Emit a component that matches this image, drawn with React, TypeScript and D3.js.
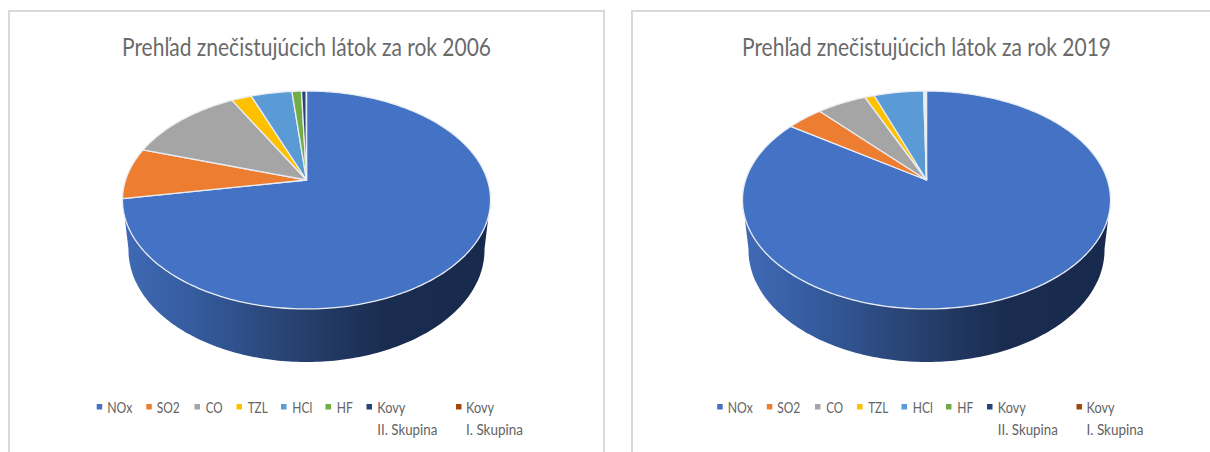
import React from "react";
import * as d3 from "d3";

const categories = ["NOx", "SO2", "CO", "TZL", "HCl", "HF", "Kovy", "Kovy"];
const categorySecondLine = ["", "", "", "", "", "", "II. Skupina", "I. Skupina"];
const colors = ["#4472C4", "#ED7D31", "#A5A5A5", "#FFC000", "#5B9BD5", "#70AD47", "#264478", "#9E480E"];
const values2006 = [72.2, 7.6, 12.2, 2.1, 4.3, 1.0, 0.5, 0.02];
const values2019 = [84.4, 3.8, 5.2, 1.0, 5.2, 0.15, 0.1, 0.05];
const title2006 = "Prehľad znečistujúcich látok za rok 2006";
const title2019 = "Prehľad znečistujúcich látok za rok 2019";

const FONT = "Lato, 'Open Sans', sans-serif";
const TEXT = "#636363";
const BORDER = "#d9d9d9";

// legend layout relative to the panel
const legendMarkerX = [96.7, 146.3, 194.5, 236.5, 281, 325.5, 366.5, 456];
const legendTextX = [107.3, 156.7, 205.7, 247.7, 292.3, 336.7, 377.3, 466];
const legendTextW = [25, 23, 17, 20, 20, 16, 28, 28];
const legendLine2W = [0, 0, 0, 0, 0, 0, 60, 57];

// perspective of the tilted disc: hub at (0,0), near side larger than far side
const K = 0.1835;
const A = 180.9;
const B = 105.3;

function project(angle: number, sx: number, sy: number): [number, number] {
  const u = Math.sin(angle);
  const v = -Math.cos(angle);
  const w = 1 - K * v;
  return [(sx * A * u) / w, (sy * B * v) / w];
}

function sampleArc(a0: number, a1: number, sx: number, sy: number): [number, number][] {
  const n = Math.max(2, Math.ceil(Math.abs(a1 - a0) / (Math.PI / 180)));
  return d3.range(n + 1).map((i) => project(a0 + ((a1 - a0) * i) / n, sx, sy));
}

const line = d3.line<[number, number]>();

function Pie({ values, title, dx, titleX, gid }: { values: number[]; title: string; dx: number; titleX: number; gid: string }) {
  const cx = dx;
  const cy = 180;
  const baseSx = 178 / 184;
  const baseSy = 112 / 109;
  const baseCy = 229.5;
  const slices = d3.pie<number>().sort(null).startAngle(0).endAngle(2 * Math.PI)(values);

  // side wall: lower part of the disc's rim joined to the lower part of the base rim
  const deg = Math.PI / 180;
  const rimTop = sampleArc(109 * deg, 251 * deg, 1, 1).map(([x, y]) => [x + cx, y + cy] as [number, number]);
  const rimBase = sampleArc(260 * deg, 100 * deg, baseSx, baseSy).map(([x, y]) => [x + cx, y + baseCy] as [number, number]);
  const wall = line([...rimTop, ...rimBase]) + "Z";

  return (
    <g>
      <defs>
        <linearGradient id={gid} gradientUnits="userSpaceOnUse" x1={cx - 178} x2={cx + 178} y1={0} y2={0}>
          <stop offset="0" stopColor="#3f69b4" />
          <stop offset="0.2" stopColor="#345a9c" />
          <stop offset="0.48" stopColor="#27406e" />
          <stop offset="0.72" stopColor="#1a2c50" />
          <stop offset="1" stopColor="#172a4d" />
        </linearGradient>
      </defs>
      <text x={titleX} y={56} fontFamily={FONT} fontSize={25} fill="#6a6a6a" textLength={369} lengthAdjust="spacingAndGlyphs">
        {title}
      </text>
      <path d={wall} fill={`url(#${gid})`} />
      {slices.map((s, i) => {
        const pts = sampleArc(s.startAngle, s.endAngle, 1, 1).map(([x, y]) => [x + cx, y + cy] as [number, number]);
        const d = line([[cx, cy], ...pts]) + "Z";
        return <path key={i} d={d} fill={colors[i]} stroke="#e9edf3" strokeWidth={1.3} strokeLinejoin="round" />;
      })}
    </g>
  );
}

function Legend({ dx }: { dx: number }) {
  return (
    <g fontFamily={FONT} fontSize={14.5} fill={TEXT}>
      {categories.map((c, i) => (
        <g key={i}>
          <rect x={legendMarkerX[i] + dx} y={404} width={5.5} height={5.5} fill={colors[i]} />
          <text x={legendTextX[i] + dx} y={412.5} textLength={legendTextW[i]} lengthAdjust="spacingAndGlyphs">{c}</text>
          {categorySecondLine[i] && (
            <text x={legendTextX[i] + dx} y={435} textLength={legendLine2W[i]} lengthAdjust="spacingAndGlyphs">{categorySecondLine[i]}</text>
          )}
        </g>
      ))}
    </g>
  );
}

export default function App() {
  const offset = 620.5;
  return (
    <svg width={1210} height={452} style={{ position: "absolute", left: 0, top: 0, display: "block", background: "#fff" }}>
      <g fill="none" stroke={BORDER} strokeWidth={2}>
        <path d="M9,452V11H604V452" />
        <path d="M632,452V11H1210" />
      </g>
      <Pie values={values2006} title={title2006} dx={306.5} titleX={122} gid="w1" />
      <Legend dx={0} />
      <Pie values={values2019} title={title2019} dx={926.5} titleX={742} gid="w2" />
      <Legend dx={offset} />
    </svg>
  );
}
